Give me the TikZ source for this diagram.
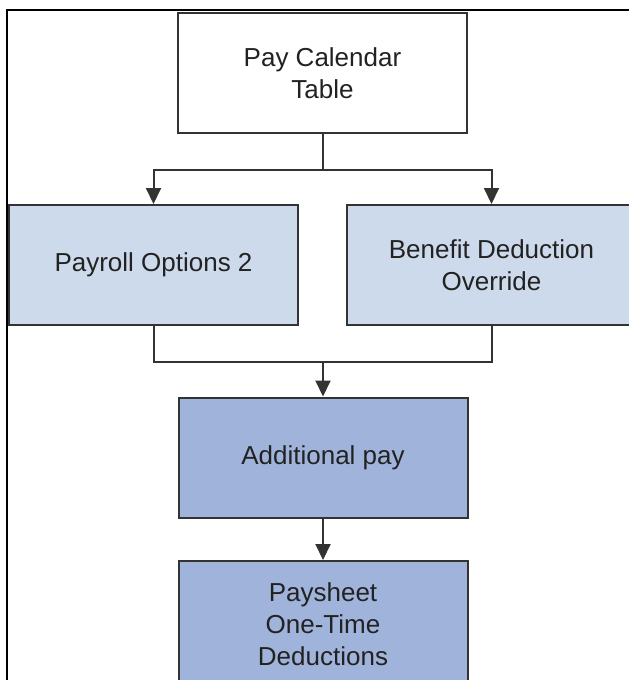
\documentclass[tikz,border=0pt]{standalone}
\usepackage{fontspec}
\setmainfont{Liberation Sans}
\usetikzlibrary{arrows.meta}
\definecolor{lineg}{HTML}{333333}
\definecolor{txtg}{HTML}{222222}
\definecolor{lightb}{HTML}{CDDAEB}
\definecolor{midb}{HTML}{A0B4DB}
\begin{document}
\begin{tikzpicture}[x=1pt,y=-1pt,
  box/.style={draw=lineg, line width=2pt, minimum width=289pt, minimum height=120pt,
    align=center, text=txtg, font=\fontsize{26}{32}\selectfont, inner sep=0pt},
  conn/.style={draw=lineg, line width=2pt},
  arr/.style={conn, -{Triangle[length=16pt,width=15pt]}}]
\useasboundingbox (0,0) rectangle (629,680);
\fill[white] (0,0) rectangle (629,680);
\draw[black, line width=1.5pt] (7,690) -- (7,10) -- (640,10);
\node[box, fill=white] (top) at (322.5,73) {Pay Calendar\\Table};
\node[box, fill=lightb] (left) at (153.5,265) {Payroll Options 2};
\node[box, fill=lightb] (right) at (491.5,265) {Benefit Deduction\\Override};
\node[box, fill=midb] (add) at (323,457.5) {Additional pay};
\node[box, fill=midb, anchor=north, minimum height=126pt] (pay) at (323,560) {Paysheet\\One-Time\\Deductions};
\coordinate (s1) at (322.5,170);
\coordinate (s2) at (323,362);
\draw[conn] (top.south) -- (s1);
\draw[arr] (s1) -| (left.north);
\draw[arr] (s1) -| (right.north);
\draw[conn] (left.south) |- (s2);
\draw[conn] (right.south) |- (s2);
\draw[arr] (s2) -- (add.north);
\draw[arr] (add.south) -- (pay.north);
\end{tikzpicture}
\end{document}
